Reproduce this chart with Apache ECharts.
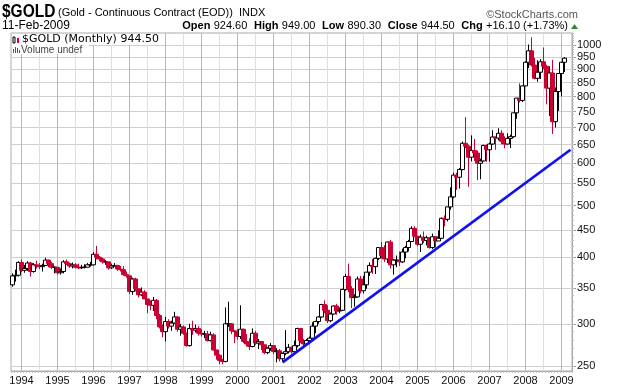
<!DOCTYPE html>
<html><head><meta charset="utf-8">
<script src="https://cdn.jsdelivr.net/npm/echarts@6/dist/echarts.min.js"></script>
<style>html,body{margin:0;padding:0;background:#fff}#c{width:620px;height:386px}</style>
</head><body><div id="c"></div>
<script>
// Monthly $GOLD, Oct 1993 .. Feb 2009
const opens = [
355,369,370,
391,378,381,390,376,387,385,384,386,395,389,383,
383,374,376,392,389,385,387,383,382,383,383,387,
387,405,400,397,392,392,382,385,386,380,379,371,
369,345,364,349,340,344,334,326,325,332,311,296,
290,303,297,301,309,293,296,288,273,294,292,294,
288,287,287,279,286,268,262,256,255,300,300,291,
290,284,293,278,275,272,288,276,278,274,265,270,
273,266,267,258,264,266,271,266,273,294,279,275,
279,282,297,303,309,326,318,304,313,324,317,318,
348,368,349,336,337,364,346,355,375,386,384,398,
417,403,397,427,387,395,395,392,409,417,428,453,
438,423,436,430,435,417,437,429,434,473,471,497,
519,570,565,584,654,646,616,634,627,600,606,648,
636,652,672,669,683,660,652,668,673,746,795,787,
838,928,975,917,866,889,930,912,830,886,718,818,
884,928];
const highs = [
373,379,393,
396,387,393,392,390,394,390,389,399,396,392,384,
383,381,395,396,391,391,390,389,387,388,390,392,
409,420,402,399,395,392,389,390,387,385,385,376,
369,366,366,349,351,347,334,332,337,334,313,299,
309,306,304,316,310,300,298,289,300,304,299,297,
293,291,291,290,288,268,263,258,322,330,301,292,
293,325,294,287,282,294,291,281,278,274,271,276,
273,270,269,265,292,275,272,279,295,294,281,281,
284,302,304,310,327,332,325,315,325,327,322,349,
372,389,353,341,368,369,369,375,391,397,399,418,
427,421,428,431,397,403,410,415,420,431,457,457,
438,441,447,439,436,443,438,449,475,479,497,541,
576,576,588,659,732,650,677,666,634,612,650,651,
656,692,674,698,692,674,683,679,747,795,847,840,
932,1002,1034,946,936,941,989,918,912,938,832,885,
930,949];
const lows = [
352,360,368,
375,374,377,368,374,381,380,376,385,383,380,373,
371,371,373,387,382,381,381,380,380,381,383,384,
386,396,393,389,387,379,380,384,377,376,369,366,
341,340,345,336,338,334,314,318,317,306,294,283,
278,294,291,300,290,285,286,272,272,286,289,285,
284,282,278,278,267,257,252,252,254,296,287,276,
280,281,276,272,268,271,274,269,268,263,263,267,
263,254,255,255,262,264,264,265,271,276,270,273,
277,281,288,300,308,314,301,302,312,312,314,317,
346,344,321,323,336,342,342,349,369,372,372,395,
398,392,390,381,371,383,385,390,398,410,427,436,
420,409,425,421,415,414,417,429,433,457,467,491,
516,535,538,582,640,542,605,606,558,560,605,604,
604,650,636,662,651,640,650,641,670,727,780,781,
837,905,911,862,853,863,901,774,736,681,700,752,
801,890];
const closes = [
369,370,391,
378,381,390,376,387,385,384,386,395,389,383,383,
374,376,392,389,385,387,383,382,383,383,387,387,
405,400,397,392,392,382,385,386,380,379,371,369,
345,364,349,340,344,334,326,325,332,311,296,290,
303,297,301,309,293,296,288,273,294,292,294,288,
287,287,279,286,268,262,256,255,300,300,291,290,
284,293,278,275,272,288,276,278,274,265,270,273,
266,267,258,264,266,271,266,273,294,279,275,279,
282,297,303,309,326,318,304,313,324,317,318,348,
368,349,336,337,364,346,355,375,386,384,398,417,
403,397,427,387,395,395,392,409,417,428,453,438,
423,436,430,435,417,437,429,434,473,471,497,519,
570,565,584,654,646,616,634,627,600,606,648,636,
652,672,669,683,660,652,668,673,746,795,787,838,
928,975,917,866,889,930,912,830,886,718,818,884,
928,944.5];
const yTickValues = [250,300,350,400,450,500,550,600,650,700,750,800,850,900,950,1000];
const trendMonths = ['2001-04', '2009-04'];
const trendValues = [254, 636];

// categories: Oct 1993 .. Apr 2009 (last two months are empty)
const months = [];
{ let y = 1993, m = 10; while (months.length < 187) { months.push(y + '-' + String(m).padStart(2, '0')); m++; if (m > 12) { m = 1; y++; } } }
const minorTickValues = [];
for (let v = 250; v <= 1050; v += 10) minorTickValues.push(v);

const yMin = 244.7, yMax = 1053;
const ohlc = opens.map((o, i) => [o, closes[i], lows[i], highs[i]]);
const gridLines = [];
months.forEach((m, i) => {
  if (i < opens.length && (m.endsWith('-01') || m.endsWith('-07'))) {
    gridLines.push({ xAxis: m, lineStyle: { color: m.endsWith('-01') ? '#b8b8b8' : '#dedede' } });
  }
});

const FONT = '"Liberation Sans", Arial, sans-serif';
const chart = echarts.init(document.getElementById('c'), null, { renderer: 'canvas' });
chart.setOption({
  animation: false,
  backgroundColor: '#fff',
  grid: { left: 11, right: 48, top: 33, bottom: 14, show: true, borderColor: '#aaa', borderWidth: 1, containLabel: false },
  xAxis: {
    type: 'category', data: months, boundaryGap: true,
    axisLine: { lineStyle: { color: '#aaa' } },
    axisTick: { show: true, interval: 0, length: 2, lineStyle: { color: '#bbb' } },
    axisLabel: {
      interval: (idx, val) => val.endsWith('-01'),
      formatter: v => v.slice(0, 4),
      fontFamily: FONT, fontSize: 11, color: '#111', margin: 4
    },
    splitLine: { show: false }
  },
  yAxis: [
    { type: 'log', logBase: 10, min: yMin, max: yMax, position: 'left', show: false },
    {
      type: 'value', position: 'right', min: Math.log(yMin), max: Math.log(yMax),
      axisLine: { show: true, lineStyle: { color: '#aaa' } },
      axisTick: { show: true, length: 4, customValues: yTickValues.map(v => Math.log(v)), lineStyle: { color: '#999' } },
      axisLabel: { customValues: yTickValues.map(v => Math.log(v)), formatter: v => String(Math.round(Math.exp(v))),
        fontFamily: FONT, fontSize: 11, color: '#111', margin: 5 },
      splitLine: { show: true, lineStyle: { color: '#d0d0d0', width: 1 } }
    },
    {
      type: 'value', position: 'right', min: Math.log(yMin), max: Math.log(yMax),
      axisLine: { show: false },
      axisTick: { show: true, length: 2, customValues: minorTickValues.map(v => Math.log(v)), lineStyle: { color: '#bbb' } },
      axisLabel: { show: false },
      splitLine: { show: false }
    }
  ],
  series: [
    {
      type: 'candlestick', name: '$GOLD', yAxisIndex: 0, z: 3,
      data: ohlc, barWidth: 4,
      itemStyle: { color: '#ffffff', color0: '#cc0033', borderColor: '#000000', borderColor0: '#cc0033', borderWidth: 1 }
    },
    {
      type: 'line', yAxisIndex: 0, z: 4,
      data: trendMonths.map((m, i) => [m, trendValues[i]]),
      symbol: 'none', lineStyle: { color: '#1010f0', width: 2.7 },
      markLine: { silent: true, z: 1, symbol: ['none', 'none'], label: { show: false },
        lineStyle: { type: 'solid', width: 1 }, data: gridLines }
    }
  ],
  graphic: [
    { type: 'rect', z: 100, shape: { x: 12, y: 34, width: 153, height: 11 }, style: { fill: '#fff' } },
    { type: 'rect', z: 100, shape: { x: 12, y: 45, width: 77, height: 9 }, style: { fill: '#fff' } },
    // small price-bar icon
    { type: 'rect', z: 101, shape: { x: 13, y: 37, width: 2, height: 6 }, style: { fill: '#fff', stroke: '#000', lineWidth: 1 } },
    { type: 'rect', z: 101, shape: { x: 17, y: 38, width: 2, height: 5 }, style: { fill: '#cc0033' } },
    // small volume icon
    { type: 'rect', z: 101, shape: { x: 13, y: 49, width: 1, height: 4 }, style: { fill: '#555' } },
    { type: 'rect', z: 101, shape: { x: 15, y: 47, width: 1, height: 6 }, style: { fill: '#555' } },
    { type: 'rect', z: 101, shape: { x: 17, y: 48, width: 1, height: 5 }, style: { fill: '#555' } },
    { type: 'rect', z: 101, shape: { x: 19, y: 50, width: 1, height: 3 }, style: { fill: '#555' } },
    { type: 'text', z: 101, left: 22, top: 34, style: { text: '$GOLD (Monthly) 944.50', font: '11px "DejaVu Sans", sans-serif', fill: '#000' } },
    { type: 'text', z: 101, left: 21, top: 45, style: { text: 'Volume undef', font: '10px ' + FONT, fill: '#444' } },
    { type: 'text', x: 2, y: 3, scaleX: 0.86, style: { text: '$GOLD', font: 'bold 18px ' + FONT, fill: '#000', verticalAlign: 'top' } },
    { type: 'text', left: 58, top: 7, style: { text: '(Gold - Continuous Contract (EOD))  INDX', font: '11px ' + FONT, fill: '#000' } },
    { type: 'text', right: 42, top: 9, style: { text: '\u00A9StockCharts.com', font: '11px ' + FONT, fill: '#555' } },
    { type: 'text', left: 2, top: 20, style: { text: '11-Feb-2009', font: '12px ' + FONT, fill: '#000' } },
    { type: 'text', right: 52, top: 20, style: {
        text: '{b|Open} {n|924.60}  {b|High} {n|949.00}  {b|Low} {n|890.30}  {b|Close} {n|944.50}  {b|Chg} {n|+16.10 (+1.73%)}',
        rich: { b: { font: 'bold 11px ' + FONT, fill: '#000' }, n: { font: '11px ' + FONT, fill: '#000' } } } },
    { type: 'polygon', shape: { points: [[571, 29], [578, 29], [574.5, 24]] }, style: { fill: '#2e8b2e' } }
  ]
});
</script>
</body></html>
